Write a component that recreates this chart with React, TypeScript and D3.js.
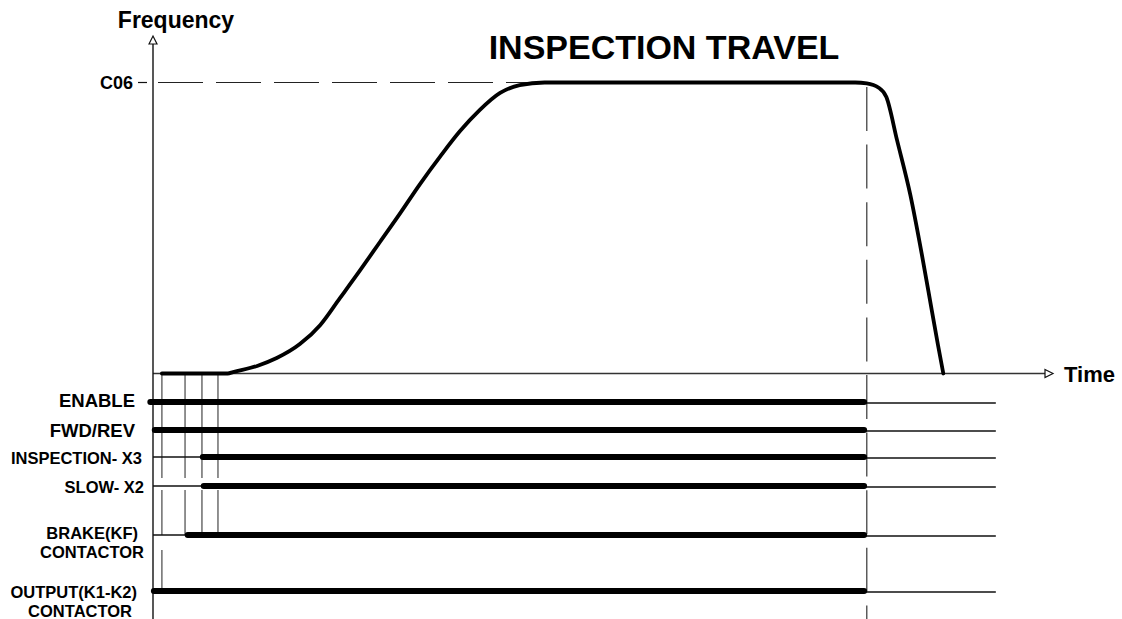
import React, { useEffect, useRef } from "react";
import * as d3 from "d3";

// chart texts
const TITLE = "INSPECTION TRAVEL";
const Y_LABEL = "Frequency";
const X_LABEL = "Time";
const SPEED_LABEL = "C06";

// frequency profile: time (arbitrary units 0..1000) and frequency (% of C06)
const curveTime = [10, 84, 90, 117, 139, 165, 188, 210, 233, 255, 278, 300, 323, 345, 367, 390, 412, 440, 789, 802, 815, 824, 836, 851, 864, 875, 882, 888];
const curveFreq = [0, 0, 0.5, 2.6, 5.3, 10.1, 16.7, 25.9, 35.6, 45.2, 55.2, 65.1, 74.7, 83.3, 90.5, 96.4, 99.1, 100, 100, 99.7, 98.3, 95.0, 80.2, 61.3, 40.7, 21.8, 9.8, 0];

// digital signals
const signalNames = [["ENABLE"], ["FWD/REV"], ["INSPECTION- X3"], ["SLOW- X2"], ["BRAKE(KF)", "CONTACTOR"], ["OUTPUT(K1-K2)", "CONTACTOR"]];
const signalOn = [-3, 2, 56, 57, 39, 1];
const signalOff = [799, 799, 799, 799, 799, 799];
const eventTimes = [10, 36, 55, 73];
const stopTime = 802;
const traceEnd = 947;

// layout for signal rows (pixels)
const rowY = [402, 430, 457, 486, 535, 591];
const labelRight = [[135], [135], [142], [144], [138, 144], [137, 132]];
const labelBase = [[407], [437], [464], [493], [539, 558], [598, 617]];
const labelSize = [18.5, 18.5, 16.5, 16.5, 16.5, 16.5];

const App = () => {
  const chartRef = useRef(null);

  useEffect(() => {
    d3.select(chartRef.current).selectAll("*").remove();

    const width = 1122;
    const height = 619;
    const font = "'Liberation Sans', Arial, sans-serif";

    const svg = d3
      .select(chartRef.current)
      .append("svg")
      .attr("width", width)
      .attr("height", height)
      .style("position", "absolute")
      .style("left", "0px")
      .style("top", "0px")
      .style("background", "#fff");

    const x = d3.scaleLinear().domain([0, 1000]).range([153, 1043]);
    const y = d3.scaleLinear().domain([0, 100]).range([373.5, 82.5]);

    // C06 dashed reference
    svg
      .append("line")
      .attr("x1", 158)
      .attr("x2", x(stopTime))
      .attr("y1", y(100))
      .attr("y2", y(100))
      .attr("stroke", "#222")
      .attr("stroke-width", 1.2)
      .attr("stroke-dasharray", "45 13");

    // stop dashed vertical
    svg
      .append("line")
      .attr("x1", x(stopTime))
      .attr("x2", x(stopTime))
      .attr("y1", 87)
      .attr("y2", height)
      .attr("stroke", "#444")
      .attr("stroke-width", 1.3)
      .attr("stroke-dasharray", "44 13.6");

    // event markers (gaps around SLOW row and below BRAKE row)
    eventTimes.forEach((t, i) => {
      const segs = [
        [y(0), rowY[3] - 8],
        [rowY[3] + 4, rowY[4]],
      ];
      if (i === 0) segs.push([rowY[4] + 15, rowY[5]]);
      segs.forEach(([a, b]) => {
        svg
          .append("line")
          .attr("x1", x(t))
          .attr("x2", x(t))
          .attr("y1", a)
          .attr("y2", b)
          .attr("stroke", "#555")
          .attr("stroke-width", 1.3);
      });
    });

    // axes
    svg
      .append("line")
      .attr("x1", x(0))
      .attr("x2", 1045)
      .attr("y1", y(0))
      .attr("y2", y(0))
      .attr("stroke", "#333")
      .attr("stroke-width", 1.4);
    svg
      .append("polygon")
      .attr("points", `1045,${y(0) - 4} 1053,${y(0)} 1045,${y(0) + 4}`)
      .attr("fill", "#fff")
      .attr("stroke", "#111")
      .attr("stroke-width", 1.2);

    svg
      .append("line")
      .attr("x1", x(0))
      .attr("x2", x(0))
      .attr("y1", 44)
      .attr("y2", height)
      .attr("stroke", "#111")
      .attr("stroke-width", 1.4);
    svg
      .append("polygon")
      .attr("points", `${x(0) - 4},44 ${x(0)},36 ${x(0) + 4},44`)
      .attr("fill", "#fff")
      .attr("stroke", "#111")
      .attr("stroke-width", 1.2);

    // C06 tick
    svg
      .append("line")
      .attr("x1", 138)
      .attr("x2", 147)
      .attr("y1", y(100))
      .attr("y2", y(100))
      .attr("stroke", "#111")
      .attr("stroke-width", 1.2);

    // signals
    signalNames.forEach((lines, i) => {
      const ry = rowY[i];
      // thin "off" segments
      if (signalOn[i] > 0) {
        svg
          .append("line")
          .attr("x1", x(0))
          .attr("x2", x(signalOn[i]))
          .attr("y1", ry)
          .attr("y2", ry)
          .attr("stroke", "#111")
          .attr("stroke-width", 1.5);
      }
      svg
        .append("line")
        .attr("x1", x(signalOff[i]))
        .attr("x2", x(traceEnd))
        .attr("y1", ry + 1)
        .attr("y2", ry + 1)
        .attr("stroke", "#111")
        .attr("stroke-width", 1.5);
      // thick "on" segment
      svg
        .append("line")
        .attr("x1", x(signalOn[i]))
        .attr("x2", x(signalOff[i]))
        .attr("y1", ry)
        .attr("y2", ry)
        .attr("stroke", "#000")
        .attr("stroke-width", 6)
        .attr("stroke-linecap", "round");

      lines.forEach((txt, j) => {
        svg
          .append("text")
          .attr("x", labelRight[i][j])
          .attr("y", labelBase[i][j])
          .attr("text-anchor", "end")
          .style("font-family", font)
          .style("font-weight", "bold")
          .style("font-size", `${labelSize[i]}px`)
          .text(txt);
      });
    });

    // frequency curve
    const pts = curveTime.map((t, i) => [t, curveFreq[i]]);
    const line = d3
      .line()
      .x((d) => x(d[0]))
      .y((d) => y(d[1]))
      .curve(d3.curveMonotoneX);
    svg
      .append("path")
      .attr("d", line(pts))
      .attr("fill", "none")
      .attr("stroke", "#000")
      .attr("stroke-width", 3.8)
      .attr("stroke-linecap", "round")
      .attr("stroke-linejoin", "round");

    // texts
    svg
      .append("text")
      .attr("x", 176)
      .attr("y", 28)
      .attr("text-anchor", "middle")
      .style("font-family", font)
      .style("font-weight", "bold")
      .style("font-size", "23px")
      .text(Y_LABEL);

    svg
      .append("text")
      .attr("x", 133)
      .attr("y", 89)
      .attr("text-anchor", "end")
      .style("font-family", font)
      .style("font-weight", "bold")
      .style("font-size", "18px")
      .text(SPEED_LABEL);

    svg
      .append("text")
      .attr("x", 1064)
      .attr("y", 382)
      .style("font-family", font)
      .style("font-weight", "bold")
      .style("font-size", "22px")
      .text(X_LABEL);

    svg
      .append("text")
      .attr("x", 664)
      .attr("y", 58.5)
      .attr("text-anchor", "middle")
      .style("font-family", font)
      .style("font-weight", "bold")
      .style("font-size", "34px")
      .text(TITLE);
  }, []);

  return <div ref={chartRef}></div>;
};

export default App;
